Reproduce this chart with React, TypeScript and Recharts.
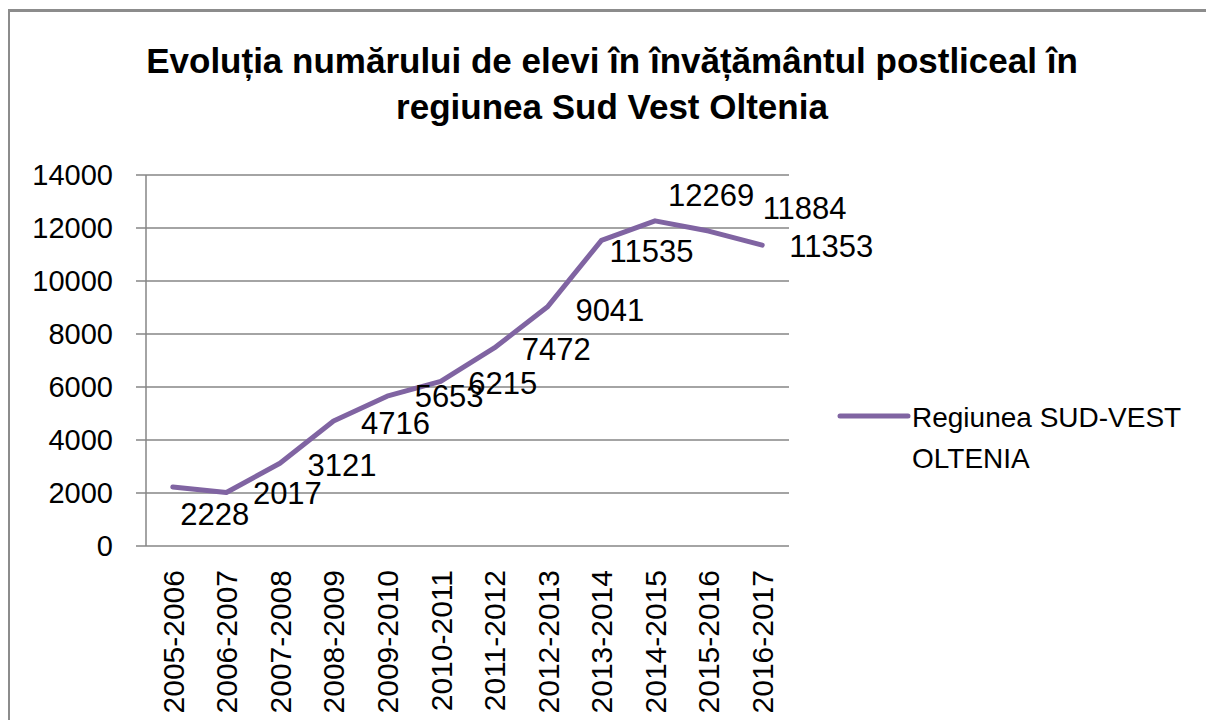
import React from 'react';
import { LineChart, Line, XAxis, YAxis, CartesianGrid, LabelList } from 'recharts';

const categories = [
  '2005-2006', '2006-2007', '2007-2008', '2008-2009', '2009-2010', '2010-2011',
  '2011-2012', '2012-2013', '2013-2014', '2014-2015', '2015-2016', '2016-2017',
];
const values = [2228, 2017, 3121, 4716, 5653, 6215, 7472, 9041, 11535, 12269, 11884, 11353];
const yTicks = [0, 2000, 4000, 6000, 8000, 10000, 12000, 14000];
const titleLines = ['Evoluția numărului de elevi în învățământul postliceal în', 'regiunea Sud Vest Oltenia'];
const legendLines = ['Regiunea SUD-VEST', 'OLTENIA'];

// label placement (style), relative to each point, like the manually placed Excel labels
const labelOffsets: [number, number][] = [
  [42, 28], [61, 1], [62, 2], [62, 2], [62, 0], [62, 2],
  [62, 2], [62, 4], [50, 11], [56, -25], [96, -23], [69, 1],
];

const data = categories.map((c, i) => ({ category: c, idx: i + 0.5, value: values[i] }));
const boundaryTicks = categories.map((_, i) => i).concat([categories.length]);

const FONT = '"Liberation Sans", Arial, sans-serif';
const PURPLE = '#8064A2';
const GRID = '#868686';

const XLabel = (props: any) => {
  const { x, y, payload } = props;
  const ty = y + 24;
  return (
    <text
      x={x}
      y={ty}
      transform={`rotate(-90, ${x}, ${ty})`}
      textAnchor="end"
      dy="0.36em"
      fontFamily={FONT}
      fontSize={30}
      fill="#000"
    >
      {payload.value}
    </text>
  );
};

const DataLabel = (props: any) => {
  const { x, y, index, value } = props;
  const [dx, dy] = labelOffsets[index] || [0, 0];
  return (
    <text
      x={x + dx}
      y={y + dy}
      textAnchor="middle"
      dominantBaseline="central"
      fontFamily={FONT}
      fontSize={31}
      fill="#000"
    >
      {value}
    </text>
  );
};

export default function App() {
  return (
    <div style={{ position: 'relative', width: 1206, height: 712 }}>
      <div
        style={{
          position: 'absolute',
          left: -1,
          top: 1,
          width: 1206,
          height: 719,
          boxSizing: 'border-box',
          borderTop: '3px solid #8c8c8c',
          borderLeft: '3px solid #8c8c8c',
          borderRight: '1px solid #c4c4c4',
        }}
      />
      <LineChart
        width={1206}
        height={712}
        data={data}
        margin={{ top: 167, right: 425, bottom: 14, left: 0 }}
      >
        <CartesianGrid xAxisId="cat" vertical={false} stroke={GRID} strokeWidth={1.5} />
        <XAxis
          xAxisId="grid"
          type="number"
          dataKey="idx"
          domain={[0, categories.length]}
          ticks={boundaryTicks}
          allowDataOverflow
          height={0}
          tick={false}
          tickSize={10}
          axisLine={{ stroke: GRID, strokeWidth: 1.5 }}
          tickLine={{ stroke: GRID, strokeWidth: 1.5 }}
        />
        <XAxis
          xAxisId="cat"
          dataKey="category"
          type="category"
          scale="band"
          interval={0}
          height={160}
          axisLine={false}
          tickLine={false}
          tickSize={0}
          tickMargin={0}
          tick={<XLabel />}
        />
        <YAxis
          domain={[0, 14000]}
          ticks={yTicks}
          interval={0}
          width={138}
          tickSize={10}
          tickMargin={23}
          axisLine={{ stroke: GRID, strokeWidth: 1.5 }}
          tickLine={{ stroke: GRID, strokeWidth: 1.5 }}
          tick={{ fontFamily: FONT, fontSize: 29, fill: '#000' }}
        />
        <Line
          xAxisId="cat"
          type="linear"
          dataKey="value"
          name="Regiunea SUD-VEST OLTENIA"
          stroke={PURPLE}
          strokeWidth={5}
          strokeLinejoin="round"
          strokeLinecap="round"
          dot={false}
          isAnimationActive={false}
        >
          <LabelList dataKey="value" content={<DataLabel />} />
        </Line>
      </LineChart>
      <svg
        width={1206}
        height={712}
        style={{ position: 'absolute', left: 0, top: 0, pointerEvents: 'none' }}
      >
        <text x={604} y={65} textAnchor="middle" fontFamily={FONT} fontWeight="bold" fontSize={35} fill="#000">
          {titleLines[0]}
        </text>
        <text x={604} y={111} textAnchor="middle" fontFamily={FONT} fontWeight="bold" fontSize={35} fill="#000">
          {titleLines[1]}
        </text>
        <line x1={832} y1={408} x2={900} y2={408} stroke={PURPLE} strokeWidth={5} strokeLinecap="round" />
        <text x={904} y={419} fontFamily={FONT} fontSize={28} fill="#000">
          {legendLines[0]}
        </text>
        <text x={904} y={460} fontFamily={FONT} fontSize={28} fill="#000">
          {legendLines[1]}
        </text>
      </svg>
    </div>
  );
}
